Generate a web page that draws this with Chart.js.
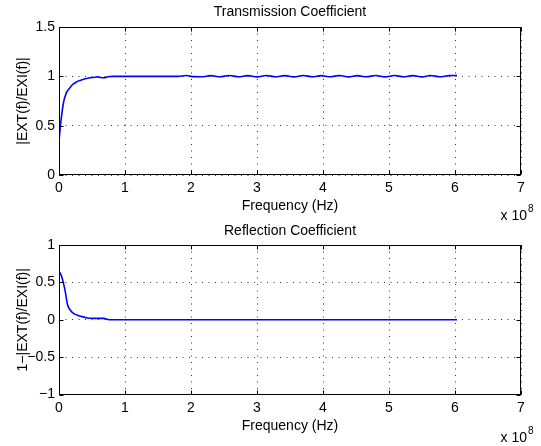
<!DOCTYPE html>
<html>
<head>
<meta charset="utf-8">
<script src="https://cdn.jsdelivr.net/npm/chart.js@4/dist/chart.umd.min.js"></script>
<style>
  html, body { margin: 0; padding: 0; background: #fff; }
  #wrap { position: relative; width: 541px; height: 446px; overflow: hidden; }
  canvas { position: absolute; left: 0; }
</style>
</head>
<body>
<div id="wrap">
  <canvas id="transChart" width="541" height="224" style="top:0"></canvas>
  <canvas id="reflChart" width="541" height="226" style="top:220px"></canvas>
</div>
<script>
// frequency in units of 1e8 Hz
const xTicks = [0, 1, 2, 3, 4, 5, 6, 7];

const transFreq = [0, 0.03, 0.07, 0.11, 0.16, 0.21, 0.27, 0.33, 0.40, 0.47,
  0.55, 0.59, 0.63, 0.68, 0.74, 0.80, 1.00, 1.40, 1.80, 1.93,
  2.02, 2.16, 2.30, 2.44, 2.58, 2.72, 2.86, 3.00, 3.14, 3.28,
  3.42, 3.56, 3.70, 3.84, 3.97, 4.11, 4.25, 4.39, 4.52, 4.66,
  4.80, 4.94, 5.08, 5.22, 5.36, 5.50, 5.63, 5.77, 5.91, 6.03];
const transMag = [0.35, 0.55, 0.74, 0.83, 0.88, 0.92, 0.945, 0.96, 0.975, 0.985,
  0.99, 0.995, 0.988, 0.985, 0.995, 1.0, 1.0, 1.0, 1.0, 1.008,
  0.997, 0.996, 1.007, 0.996, 1.008, 0.996, 1.007, 0.995, 1.008, 0.996,
  1.007, 0.995, 1.008, 0.996, 1.007, 0.996, 1.008, 0.995, 1.007, 0.996,
  1.008, 0.995, 1.008, 0.996, 1.007, 0.995, 1.008, 0.996, 1.007, 1.008];

const reflFreq = [0, 0.04, 0.09, 0.13, 0.17, 0.22, 0.30, 0.38, 0.45, 0.55, 0.68, 0.74, 0.80, 2.00, 4.00, 6.03];
const reflMag = [0.65, 0.58, 0.40, 0.20, 0.13, 0.085, 0.055, 0.035, 0.02, 0.018, 0.018, 0.004, 0, 0, 0, 0];

const FONT = "'Liberation Sans', Arial, Helvetica, sans-serif";

// MATLAB style box, inward ticks and the x 10^8 exponent
const matlabFrame = {
  id: 'matlabFrame',
  afterDraw(chart, args, opts) {
    const { ctx, chartArea: a, scales: { x, y } } = chart;
    const L = Math.round(a.left) + 0.5, R = Math.round(a.right) - 0.5;
    const T = Math.round(a.top) + 0.5, B = Math.round(a.bottom) - 0.5;
    ctx.save();
    ctx.strokeStyle = '#000';
    ctx.lineWidth = 1;
    ctx.strokeRect(L, T, R - L, B - T);
    ctx.beginPath();
    x.ticks.forEach(t => {
      const px = Math.round(x.getPixelForValue(t.value)) + 0.5;
      ctx.moveTo(px, B); ctx.lineTo(px, B - 4);
      ctx.moveTo(px, T); ctx.lineTo(px, T + 4);
    });
    y.ticks.forEach(t => {
      const py = Math.round(y.getPixelForValue(t.value)) + 0.5;
      ctx.moveTo(L, py); ctx.lineTo(L + 4, py);
      ctx.moveTo(R, py); ctx.lineTo(R - 4, py);
    });
    ctx.stroke();

    ctx.fillStyle = '#000';
    ctx.textBaseline = 'alphabetic';
    ctx.textAlign = 'right';
    ctx.font = '14px ' + FONT;
    ctx.fillText('x 10', 527, opts.expBaseline);
    ctx.textAlign = 'left';
    ctx.font = '10px ' + FONT;
    ctx.fillText('8', 528, opts.expBaseline - 8);
    ctx.restore();
  }
};

function makeChart(id, cfg) {
  const ctx = document.getElementById(id).getContext('2d');
  const points = cfg.freq.map((f, i) => ({ x: f, y: cfg.mag[i] }));
  return new Chart(ctx, {
    type: 'line',
    data: {
      datasets: [{
        data: points,
        borderColor: '#0000ff',
        borderWidth: 1.6,
        pointRadius: 0,
        fill: false,
        cubicInterpolationMode: 'monotone'
      }]
    },
    options: {
      responsive: false,
      animation: false,
      parsing: false,
      layout: { padding: { top: 0, right: 20, bottom: 0, left: 0 } },
      scales: {
        x: {
          type: 'linear',
          min: 0, max: 7,
          afterBuildTicks: s => { s.ticks = xTicks.map(v => ({ value: v })); },
          afterFit: s => { s.height = cfg.xHeight; },
          grid: { color: 'rgba(0,0,0,0.8)', lineWidth: 1, drawTicks: false },
          border: { display: false, dash: [1, 5.5] },
          ticks: { color: '#000', font: { size: 14, family: FONT }, padding: 5, maxRotation: 0 },
          title: {
            display: true, text: 'Frequency (Hz)', color: '#000',
            font: { size: 14, family: FONT }, padding: { top: 0, bottom: cfg.xTitlePad }
          }
        },
        y: {
          min: cfg.yMin, max: cfg.yMax,
          ticks: {
            stepSize: 0.5, color: '#000', font: { size: 14, family: FONT }, padding: 4,
            callback: v => String(v).replace('-', '\u2212')
          },
          afterFit: s => { s.width = 59; },
          grid: { color: 'rgba(0,0,0,0.8)', lineWidth: 1, drawTicks: false },
          border: { display: false, dash: [1, 5.5] },
          title: {
            display: true, text: cfg.yLabel, color: '#000',
            font: { size: 14, family: FONT }, padding: { top: 14.3, bottom: 0 }
          }
        }
      },
      plugins: {
        legend: { display: false },
        tooltip: { enabled: false },
        title: {
          display: true, text: cfg.title, color: '#000', fullSize: false,
          font: { size: 14, weight: 'normal', family: FONT },
          padding: cfg.titlePad
        },
        matlabFrame: { expBaseline: cfg.expBaseline }
      }
    },
    plugins: [matlabFrame]
  });
}

makeChart('transChart', {
  freq: transFreq, mag: transMag,
  title: 'Transmission Coefficient',
  yLabel: '|EXT(f)/EXI(f)|',
  yMin: 0, yMax: 1.5,
  titlePad: { top: 3.3, bottom: 6.9 },
  xHeight: 49, xTitlePad: 9.6,
  expBaseline: 220
});

makeChart('reflChart', {
  freq: reflFreq, mag: reflMag,
  title: 'Reflection Coefficient',
  yLabel: '1\u2212|EXT(f)/EXI(f)|',
  yMin: -1, yMax: 1,
  titlePad: { top: 2.3, bottom: 5.9 },
  xHeight: 51.5, xTitlePad: 11.9,
  expBaseline: 221.5
});
</script>
</body>
</html>
